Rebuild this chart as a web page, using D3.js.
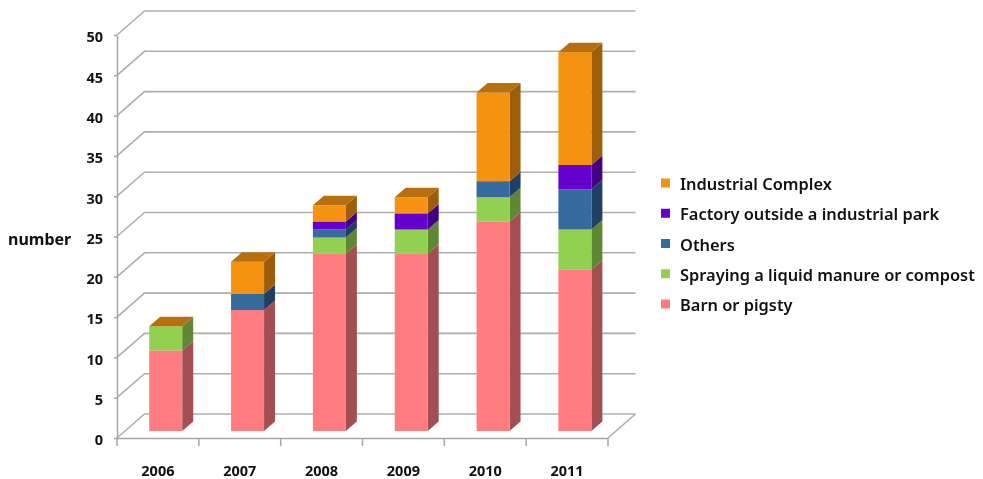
<!DOCTYPE html>
<html>
<head>
<meta charset="utf-8">
<style>
  html, body { margin: 0; padding: 0; background: #fff; overflow: hidden; }
  svg { filter: blur(0.35px); }
  text { font-family: "Noto Sans", sans-serif; fill: #111; }
  .tick-label { font-size: 14.5px; font-weight: 700; }
  .legend-label { font-size: 16.4px; font-weight: 600; }
</style>
<script src="https://d3js.org/d3.v7.min.js"></script>
</head>
<body>
<svg id="chart" width="983" height="479"></svg>
<script>
// --- data ---
const years = ["2006", "2007", "2008", "2009", "2010", "2011"];
const barn = [10, 15, 22, 22, 26, 20];
const spraying = [3, 0, 2, 3, 3, 5];
const others = [0, 2, 1, 0, 2, 5];
const factory = [0, 0, 1, 2, 0, 3];
const industrial = [0, 4, 2, 2, 11, 14];
const yTicks = [0, 5, 10, 15, 20, 25, 30, 35, 40, 45, 50];

const seriesNames = ["Barn or pigsty", "Spraying a liquid manure or compost", "Others",
  "Factory outside a industrial park", "Industrial Complex"];
const seriesValues = [barn, spraying, others, factory, industrial];
const frontColors = ["#ff7c80", "#92d050", "#376a9e", "#6600cc", "#f59311"];
const sideColors = ["#a34f52", "#5f8734", "#1f3f63", "#420085", "#9c5e0b"];
const topColor = "#b8700e"; // every bar's cap has the top series' colour, even with 0 height

// --- layout ---
const svg = d3.select("#chart");
const x = d3.scaleBand().domain(years).range([117, 608]);
const y = d3.scaleLinear().domain([0, 50]).range([438, 35]);

// wall depth and bar depth of the fake 3D
const wallDx = 27.5, wallDy = -24;
const barDx = 11, barDy = -9.5;
const barShiftX = 7.8, barShiftY = -7;
const barW = 33;

// --- walls ---
const grid = svg.append("g").attr("stroke", "#aeaeae").attr("stroke-width", 1.6).attr("fill", "none");
yTicks.forEach(t => {
  grid.append("path").attr("d", d3.line()([
    [x.range()[0], y(t)],
    [x.range()[0] + wallDx, y(t) + wallDy],
    [x.range()[1] + wallDx, y(t) + wallDy]
  ]));
});
grid.append("path").attr("d", d3.line()([
  [x.range()[1], y(0)],
  [x.range()[1] + wallDx, y(0) + wallDy]
]));

// --- axes ---
const yAxis = d3.axisLeft(y).tickValues(yTicks).tickSize(3).tickPadding(11).tickSizeOuter(0);
const gy = svg.append("g").attr("transform", `translate(${x.range()[0]},0)`).call(yAxis);
gy.select(".domain").attr("stroke", "#a6a6a6").attr("stroke-width", 1.5);
gy.selectAll("line").attr("stroke", "#a6a6a6").attr("stroke-width", 1.5);
gy.selectAll("text").attr("class", "tick-label").attr("font-family", null).attr("font-size", null)
  .attr("dy", "0.47em");

const xAxis = d3.axisBottom(x).tickSize(0).tickPadding(28);
const gx = svg.append("g").attr("transform", `translate(0,${y(0)})`).call(xAxis);
gx.select(".domain").attr("stroke", "#a6a6a6").attr("stroke-width", 1.5);
gx.selectAll("text").attr("class", "tick-label").attr("font-family", null).attr("font-size", null);
// ticks sit between the categories, at the band edges
const edges = years.map(d => x(d)).concat([x.range()[1]]);
gx.selectAll(".edge").data(edges).enter().append("line")
  .attr("class", "edge").attr("x1", d => d).attr("x2", d => d)
  .attr("y1", 0).attr("y2", 8)
  .attr("stroke", "#a6a6a6").attr("stroke-width", 1.5);

// --- bars ---
const rows = years.map((yr, i) => {
  const row = { year: yr };
  seriesNames.forEach((n, s) => { row[n] = seriesValues[s][i]; });
  return row;
});
const stacked = d3.stack().keys(seriesNames)(rows);
const barsG = svg.append("g");

years.forEach((yr, i) => {
  const left = x(yr) + x.bandwidth() / 2 + barShiftX - barW / 2;
  const right = left + barW;

  stacked.forEach((layer, s) => {
    const [v0, v1] = layer[i];
    if (v1 <= v0) return;
    const y0 = y(v0) + barShiftY, y1 = y(v1) + barShiftY;
    barsG.append("path").attr("fill", sideColors[s]).attr("d", d3.line()([
      [right, y0], [right + barDx, y0 + barDy], [right + barDx, y1 + barDy], [right, y1]
    ]) + "Z");
    barsG.append("rect").attr("fill", frontColors[s])
      .attr("x", left).attr("y", y1).attr("width", barW).attr("height", y0 - y1);
  });

  const yTop = y(stacked[stacked.length - 1][i][1]) + barShiftY;
  barsG.append("path").attr("fill", topColor).attr("d", d3.line()([
    [left, yTop], [left + barDx, yTop + barDy], [right + barDx, yTop + barDy], [right, yTop]
  ]) + "Z");
});

// --- labels ---
svg.append("text").attr("class", "tick-label").attr("x", 8).attr("y", 245)
  .style("font-size", "16px").text("number");

// legend, top entry first
const legendY = d3.scalePoint().domain(seriesNames.slice().reverse()).range([183, 304]);
const legend = svg.append("g");
seriesNames.forEach((n, s) => {
  legend.append("rect").attr("x", 661).attr("y", legendY(n) - 4.5)
    .attr("width", 9).attr("height", 9).attr("fill", frontColors[s]);
  legend.append("text").attr("class", "legend-label")
    .attr("x", 680).attr("y", legendY(n) + 7).text(n);
});
</script>
</body>
</html>
